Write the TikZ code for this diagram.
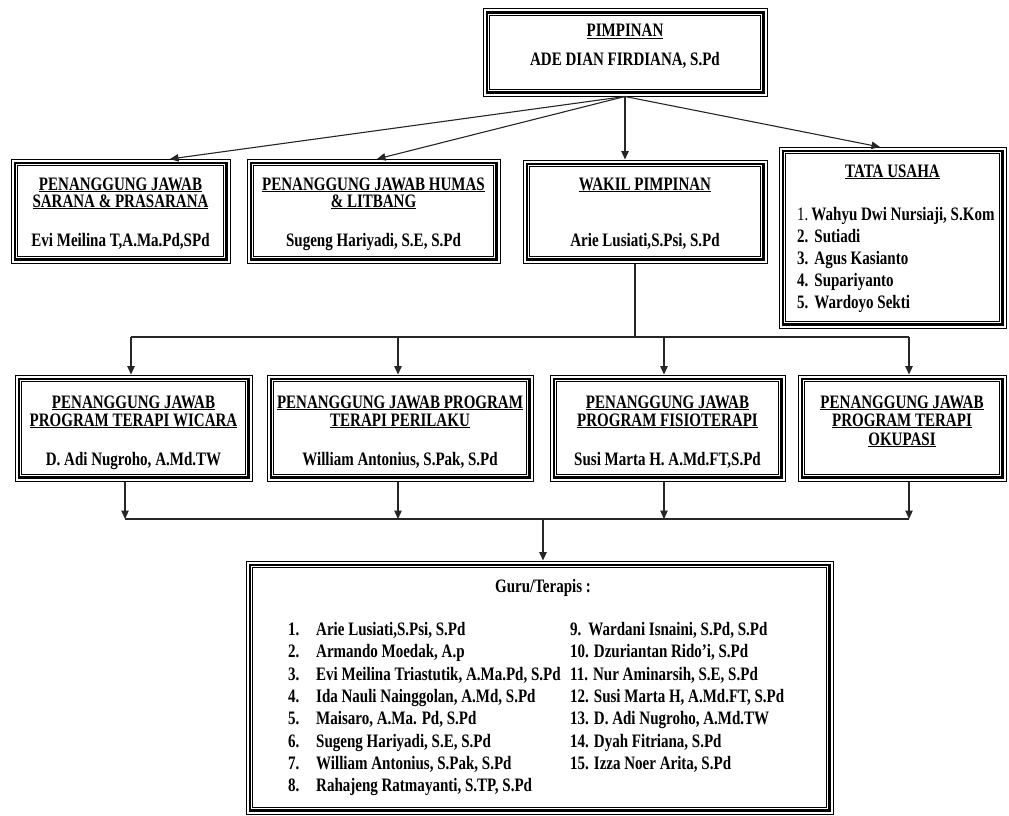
\documentclass[tikz,border=0pt]{standalone}
\usepackage{fontspec}
\setmainfont{Liberation Serif}[FakeStretch=0.79]
\usetikzlibrary{arrows.meta,fit}
\tikzset{
  boxframe/.style={draw=black,line width=1pt,inner sep=0pt},
  txt/.style={anchor=base,inner sep=0pt,font=\fontsize{19}{19}\selectfont\bfseries},
  ltxt/.style={txt,anchor=base west},
  conn/.style={line width=1.1pt,draw=black!85},
  arr/.style={conn,-{Triangle[length=8.5pt,width=7.5pt]}},
}
\newcommand\tribox[5]{%
  \node[boxframe,fit={(#2,#3) (#4,#5)}] (#1) {};
  \draw[line width=2.8pt] ([shift={(4.4pt,-4.4pt)}]#1.north west) rectangle ([shift={(-4.4pt,4.4pt)}]#1.south east);
  \draw[line width=1pt] ([shift={(7.4pt,-7.4pt)}]#1.north west) rectangle ([shift={(-7.4pt,7.4pt)}]#1.south east);
}
\begin{document}
\begin{tikzpicture}[x=1pt,y=-1pt]
\useasboundingbox (0,0) rectangle (1009,816);

% boxes
\tribox{top}{483}{9}{767}{96}
\tribox{A}{11}{159}{230}{263}
\tribox{B}{247}{159}{500}{263}
\tribox{W}{523}{160}{767}{263}
\tribox{T}{779}{147}{1006}{328}
\tribox{R1}{15}{375}{252}{481}
\tribox{R2}{267}{375}{533}{481}
\tribox{R3}{550}{375}{785}{481}
\tribox{R4}{798}{375}{1006}{481}
\tribox{G}{246}{561}{833}{814}

% top box text
\node[txt] (t1) at (625,37) {\underline{PIMPINAN}};
\node[txt] (t2) at (625,66) {ADE DIAN FIRDIANA, S.Pd};

% row 2 texts
\node[txt] (a1) at (120.5,190) {\underline{PENANGGUNG JAWAB}};
\node[txt] (a2) at (120.5,207) {\underline{SARANA \& PRASARANA}};
\node[txt] (a3) at (120.5,246) {Evi Meilina T,A.Ma.Pd,SPd};
\node[txt] (b1) at (373.5,190) {\underline{PENANGGUNG JAWAB HUMAS}};
\node[txt] (b2) at (373.5,207) {\underline{\& LITBANG}};
\node[txt] (b3) at (373.5,246) {Sugeng Hariyadi, S.E, S.Pd};
\node[txt] (w1) at (645,190) {\underline{WAKIL PIMPINAN}};
\node[txt] (w2) at (645,246) {Arie Lusiati,S.Psi, S.Pd};
\node[txt] (u0) at (892.5,177) {\underline{TATA USAHA}};
\node[ltxt] (u1) at (797,220) {{\mdseries 1.}\hspace{3pt}Wahyu Dwi Nursiaji, S.Kom};
\node[ltxt] (u2) at (797,242) {2.\hspace{6pt}Sutiadi};
\node[ltxt] (u3) at (797,264) {3.\hspace{6pt}Agus Kasianto};
\node[ltxt] (u4) at (797,286) {4.\hspace{6pt}Supariyanto};
\node[ltxt] (u5) at (797,308) {5.\hspace{6pt}Wardoyo Sekti};

% row 3 texts
\node[txt] (r11) at (133.5,408) {\underline{PENANGGUNG JAWAB}};
\node[txt] (r12) at (133.5,426) {\underline{PROGRAM TERAPI WICARA}};
\node[txt] (r13) at (133.5,465) {D. Adi Nugroho, A.Md.TW};
\node[txt] (r21) at (400,408) {\underline{PENANGGUNG JAWAB PROGRAM}};
\node[txt] (r22) at (400,426) {\underline{TERAPI PERILAKU}};
\node[txt] (r23) at (400,465) {William Antonius, S.Pak, S.Pd};
\node[txt] (r31) at (667.5,408) {\underline{PENANGGUNG JAWAB}};
\node[txt] (r32) at (667.5,426) {\underline{PROGRAM FISIOTERAPI}};
\node[txt] (r33) at (667.5,465) {Susi Marta H. A.Md.FT,S.Pd};
\node[txt] (r41) at (902,408) {\underline{PENANGGUNG JAWAB}};
\node[txt] (r42) at (902,426) {\underline{PROGRAM TERAPI}};
\node[txt] (r43) at (902,445) {\underline{OKUPASI}};

% bottom box texts
\node[txt] (g0) at (543,592) {Guru/Terapis :};
\node[ltxt] (g1) at (288,635) {\makebox[28pt][l]{1.}Arie Lusiati,S.Psi, S.Pd};
\node[ltxt] (g2) at (288,657) {\makebox[28pt][l]{2.}Armando Moedak, A.p};
\node[ltxt] (g3) at (288,680) {\makebox[28pt][l]{3.}Evi Meilina Triastutik, A.Ma.Pd, S.Pd};
\node[ltxt] (g4) at (288,702) {\makebox[28pt][l]{4.}Ida Nauli Nainggolan, A.Md, S.Pd};
\node[ltxt] (g5) at (288,724) {\makebox[28pt][l]{5.}Maisaro, A.Ma. Pd, S.Pd};
\node[ltxt] (g6) at (288,747) {\makebox[28pt][l]{6.}Sugeng Hariyadi, S.E, S.Pd};
\node[ltxt] (g7) at (288,769) {\makebox[28pt][l]{7.}William Antonius, S.Pak, S.Pd};
\node[ltxt] (g8) at (288,791) {\makebox[28pt][l]{8.}Rahajeng Ratmayanti, S.TP, S.Pd};
\node[ltxt] (g9) at (570,635) {9.\hspace{7pt}Wardani Isnaini, S.Pd, S.Pd};
\node[ltxt] (g10) at (570,657) {10. Dzuriantan Rido’i, S.Pd};
\node[ltxt] (g11) at (570,680) {11. Nur Aminarsih, S.E, S.Pd};
\node[ltxt] (g12) at (570,702) {12. Susi Marta H, A.Md.FT, S.Pd};
\node[ltxt] (g13) at (570,724) {13. D. Adi Nugroho, A.Md.TW};
\node[ltxt] (g14) at (570,747) {14. Dyah Fitriana, S.Pd};
\node[ltxt] (g15) at (570,769) {15. Izza Noer Arita, S.Pd};

% connectors from top
\coordinate (pA) at (170,159);
\coordinate (pB) at (377,159);
\coordinate (pT) at (880,147);
\draw[arr] (top.south) -- (pA);
\draw[arr] (top.south) -- (pB);
\draw[arr] (top.south) -- (top.south |- W.north);
\draw[arr] (top.south) -- (pT);

% wakil to row 3
\coordinate (bw) at (635,337);
\coordinate (d1) at (131,337);
\coordinate (d2) at (398,337);
\coordinate (d3) at (664,337);
\coordinate (d4) at (909,337);
\draw[conn] (bw |- W.south) -- (bw);
\draw[conn] (d1) -- (d4);
\draw[arr] (d1) -- (d1 |- R1.north);
\draw[arr] (d2) -- (d2 |- R2.north);
\draw[arr] (d3) -- (d3 |- R3.north);
\draw[arr] (d4) -- (d4 |- R4.north);

% row 3 to guru
\coordinate (e1) at (125,519);
\coordinate (e2) at (398,519);
\coordinate (e3) at (664,519);
\coordinate (e4) at (909,519);
\coordinate (e5) at (543,519);
\draw[arr] (e1 |- R1.south) -- (e1);
\draw[arr] (e2 |- R2.south) -- (e2);
\draw[arr] (e3 |- R3.south) -- (e3);
\draw[arr] (e4 |- R4.south) -- (e4);
\draw[conn] (e1) -- (e4);
\draw[arr] (e5) -- (e5 |- G.north);
\end{tikzpicture}
\end{document}
